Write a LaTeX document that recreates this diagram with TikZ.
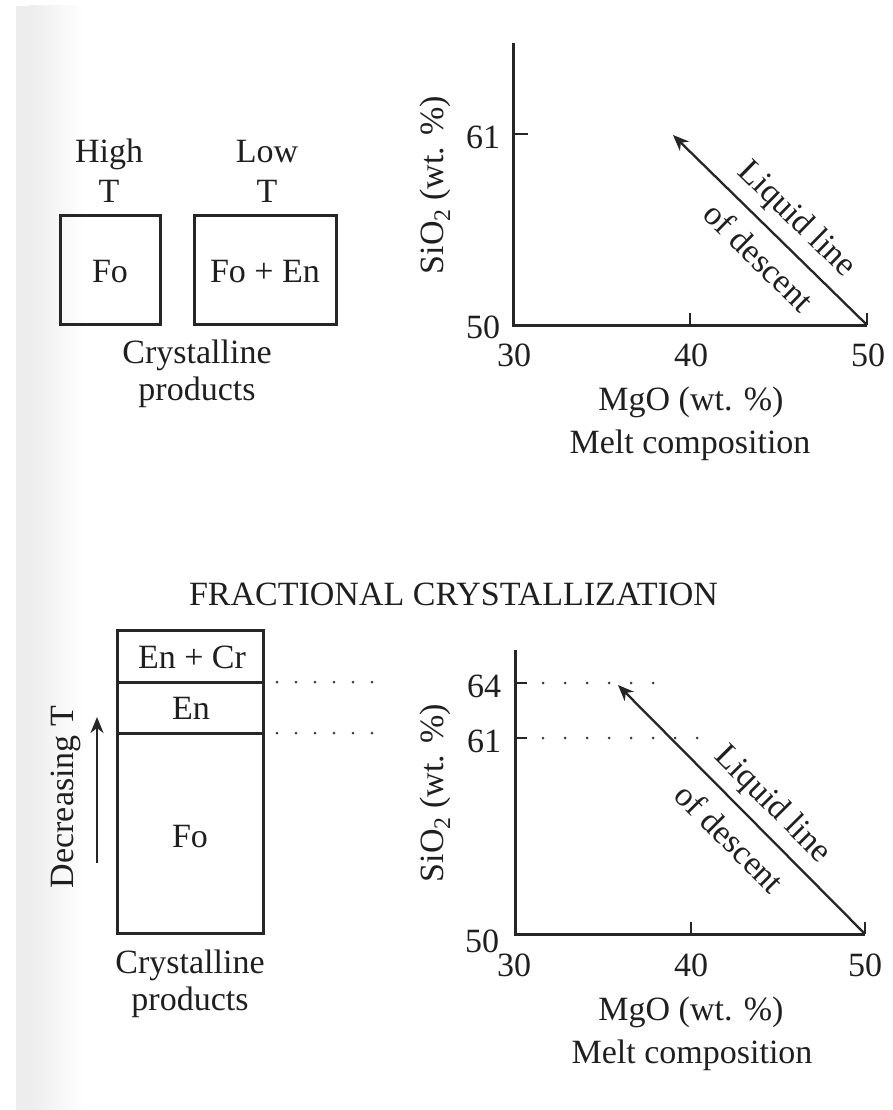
\documentclass[tikz,border=0pt]{standalone}
\usepackage{fontspec}
\setmainfont{Liberation Serif}
\usetikzlibrary{arrows.meta}
\begin{document}
\begin{tikzpicture}[x=1pt,y=-1pt,
  every node/.style={font=\fontsize{34}{40}\selectfont, inner sep=0pt, text=black!88},
  txt/.style={anchor=base},
  boxed/.style={draw=black!85, line width=3pt, inner sep=0pt},
  axisline/.style={draw=black!85, line width=3pt},
  tickline/.style={draw=black!85, line width=2.8pt},
  lldarrow/.style={draw=black!85, -{Stealth[length=16pt,width=13pt,inset=5pt]}, line width=2.3pt},
  dotline/.style={draw=black!75, line width=3pt, line cap=round, dash pattern=on 0pt off 19pt},
  dotlineb/.style={draw=black!75, line width=3pt, line cap=round, dash pattern=on 0pt off 22pt}]
\useasboundingbox (0,0) rectangle (892,1110);
\fill[black!7] (16,6) rectangle (30,1110);
\shade[left color=black!7, right color=white] (30,6) rectangle (85,1110);

% ---------- top left: equilibrium products ----------
\node[boxed, minimum width=100pt, minimum height=109pt] (fo1) at (110,269.5) {};
\node[txt] (fo1t) at (110,282) {Fo};
\node[boxed, minimum width=142pt, minimum height=109pt] (foen) at (265,269.5) {};
\node[txt] (foent) at (265,282) {Fo + En};
\node[txt] (high) at (109,163) {High};
\node[txt] (hight) at (109,202) {T};
\node[txt] (low) at (267,163) {Low};
\node[txt] (lowt) at (267,202) {T};
\node[txt] (crys1) at (197,363) {Crystalline};
\node[txt] (prod1) at (197,400) {products};

% ---------- top right: plot ----------
\coordinate (o1) at (513,325);
\coordinate (yt1) at (513,43);
\coordinate (xr1) at (867,325);
\coordinate (t61a) at (513,134);
\coordinate (t61b) at (528,134);
\coordinate (t40a) at (690,325);
\coordinate (t40b) at (690,313);
\coordinate (t50b) at (867,313);
\coordinate (tip1) at (673,135);
\draw[axisline] (yt1) -- (o1) -- (xr1);
\draw[tickline] (t61a) -- (t61b);
\draw[tickline] (t40a) -- (t40b);
\draw[tickline] (xr1) -- (t50b);
\draw[lldarrow] (xr1) -- (tip1);
\node (y61) at (483,137) {61};
\node (y50) at (483,327) {50};
\node (x30) at (514,355) {30};
\node (x40) at (691,355) {40};
\node (x50) at (868,355) {50};
\node[txt] (mgo1) at (691,410) {MgO (wt. \%)};
\node[txt] (melt1) at (690,453) {Melt composition};
\node[txt, rotate=90] (sio1) at (443,185) {SiO\textsubscript{2} (wt. \%)};
\node[rotate=-44.4] (liq1) at (796,220) {Liquid line};
\node[rotate=-44.4] (desc1) at (759,257) {of descent};

% ---------- bottom: fractional crystallization ----------
\node[txt] (title) at (453.5,605) {FRACTIONAL CRYSTALLIZATION};
\node[boxed, minimum width=146pt, minimum height=52pt] (encr) at (190,656) {};
\node[boxed, minimum width=146pt, minimum height=51pt] (en) at (190,707.5) {};
\node[boxed, minimum width=146pt, minimum height=200pt] (fo2) at (190,833) {};
\node[txt] (encrt) at (192,668) {En + Cr};
\node[txt] (ent) at (191,719) {En};
\node[txt] (fo2t) at (190,847) {Fo};
\node[txt] (crys2) at (190,973) {Crystalline};
\node[txt] (prod2) at (190,1010) {products};
\coordinate (dtb) at (97,863);
\coordinate (dtt) at (97,717);
\draw[lldarrow] (dtb) -- (dtt);
\node[txt, rotate=90] (dect) at (73,797) {Decreasing T};
\coordinate (d1a) at (277,682);
\coordinate (d1b) at (372,682);
\coordinate (d2a) at (277,733);
\coordinate (d2b) at (372,733);
\draw[dotline] (d1a) -- (d1b);
\draw[dotline] (d2a) -- (d2b);

% bottom plot
\coordinate (o2) at (515,934);
\coordinate (yt2) at (515,650);
\coordinate (xr2) at (865,934);
\coordinate (t64a) at (515,683);
\coordinate (t64b) at (527,683);
\coordinate (u61a) at (515,738);
\coordinate (u61b) at (527,738);
\coordinate (u40a) at (691,934);
\coordinate (u40b) at (691,922);
\coordinate (u50b) at (865,922);
\coordinate (tip2) at (618,685);
\coordinate (g64a) at (543,683);
\coordinate (g64b) at (657,683);
\coordinate (g61a) at (543,738);
\coordinate (g61b) at (705,738);
\draw[axisline] (yt2) -- (o2) -- (xr2);
\draw[tickline] (t64a) -- (t64b);
\draw[tickline] (u61a) -- (u61b);
\draw[tickline] (u40a) -- (u40b);
\draw[tickline] (xr2) -- (u50b);
\draw[dotlineb] (g64a) -- (g64b);
\draw[dotlineb] (g61a) -- (g61b);
\draw[lldarrow] (xr2) -- (tip2);
\node (z64) at (484,686) {64};
\node (z61) at (484,741) {61};
\node (z50) at (482,941) {50};
\node (w30) at (514,965) {30};
\node (w40) at (691,965) {40};
\node (w50) at (865,965) {50};
\node[txt] (mgo2) at (691,1020) {MgO (wt. \%)};
\node[txt] (melt2) at (692,1063) {Melt composition};
\node[txt, rotate=90] (sio2) at (443,793) {SiO\textsubscript{2} (wt. \%)};
\node[rotate=-45.2] (liq2) at (772,805) {Liquid line};
\node[rotate=-45.2] (desc2) at (730,838) {of descent};
\end{tikzpicture}
\end{document}
